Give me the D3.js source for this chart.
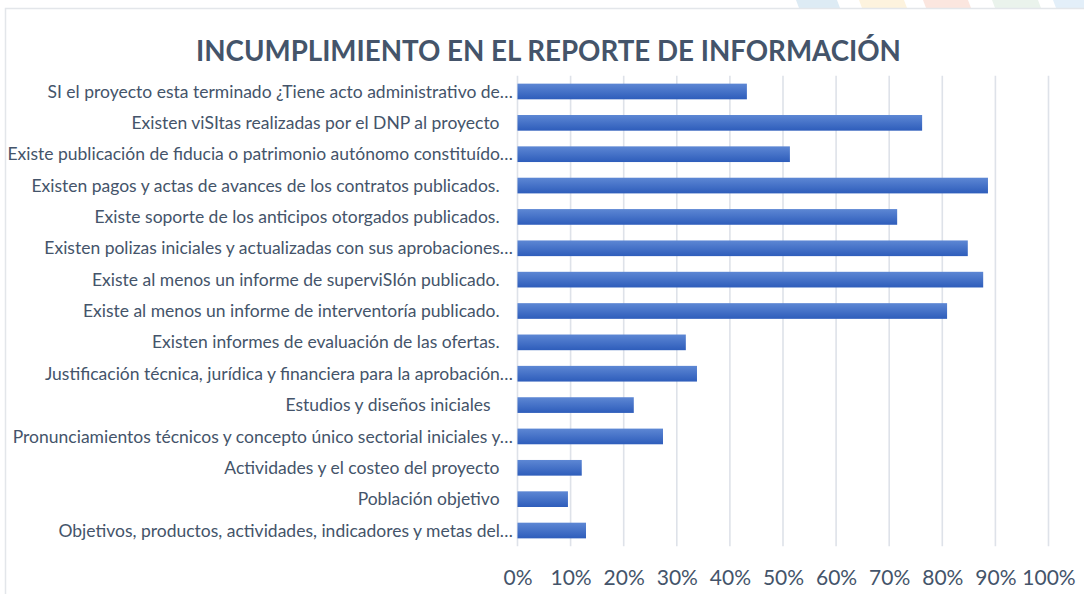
<!DOCTYPE html>
<html><head><meta charset="utf-8">
<script src="https://cdn.jsdelivr.net/npm/d3@7"></script>
<style>
html,body{margin:0;padding:0;background:#fff;}
svg{display:block;}
text{font-family:Lato,"Open Sans",sans-serif;}
</style></head>
<body><svg id="c" width="1084" height="594"></svg>
<script>
const title = "INCUMPLIMIENTO EN EL REPORTE DE INFORMACIÓN";
const categories = [
  "SI el proyecto esta terminado ¿Tiene acto administrativo de…",
  "Existen viSItas realizadas por el DNP al proyecto   ",
  "Existe publicación de fiducia o patrimonio autónomo constituído…",
  "Existen pagos y actas de avances de los contratos publicados.   ",
  "Existe soporte de los anticipos otorgados publicados.   ",
  "Existen polizas iniciales y actualizadas con sus aprobaciones…",
  "Existe al menos un informe de superviSIón publicado.   ",
  "Existe al menos un informe de interventoría publicado.   ",
  "Existen informes de evaluación de las ofertas.   ",
  "Justificación técnica, jurídica y financiera para la aprobación…",
  "Estudios y diseños iniciales     ",
  "Pronunciamientos técnicos y concepto único sectorial iniciales y…",
  "Actividades y el costeo del proyecto   ",
  "Población objetivo   ",
  "Objetivos, productos, actividades, indicadores y metas del…"
];
const values = [0.432, 0.762, 0.513, 0.886, 0.715, 0.848, 0.877, 0.809, 0.317, 0.338, 0.219, 0.274, 0.121, 0.095, 0.129];
const tickValues = [0,0.1,0.2,0.3,0.4,0.5,0.6,0.7,0.8,0.9,1.0];

const svg = d3.select("#c");
const textColor = "#44546A";

// slide decoration above the chart frame
const deco = [[796,837,"#DDEBF4"],[859,904,"#FDF3DE"],[923,968,"#FBE6DF"],[992,1038,"#EAF3EC"],[1053,1095,"#E3EFF9"]];
svg.selectAll("polygon.deco").data(deco).join("polygon").attr("class","deco")
  .attr("points", d => `${d[0]},0 ${d[1]},0 ${d[1]+3},8 ${d[0]+3},8`).attr("fill", d => d[2]);

// chart frame
svg.append("rect").attr("x",5.5).attr("y",8.5).attr("width",1100).attr("height",600)
  .attr("fill","#fff").attr("stroke","#E3E6EA").attr("stroke-width",1.5);

const defs = svg.append("defs");
const grad = defs.append("linearGradient").attr("id","barGrad").attr("x1",0).attr("y1",0).attr("x2",0).attr("y2",1);
grad.append("stop").attr("offset","0%").attr("stop-color","#5D87D4");
grad.append("stop").attr("offset","100%").attr("stop-color","#2E5DBB");

const x = d3.scaleLinear().domain([0,1]).range([517.5,1048.5]);
const y = d3.scaleBand().domain(categories).range([75.8,546.2]).paddingInner(0.5).paddingOuter(0.25);

// gridlines
svg.append("g").selectAll("line").data(tickValues).join("line")
  .attr("x1", d => x(d)).attr("x2", d => x(d))
  .attr("y1", y.range()[0]).attr("y2", y.range()[1])
  .attr("stroke","#DEE2E9").attr("stroke-width",1.6);

// bars
svg.append("g").selectAll("rect").data(values).join("rect")
  .attr("x", x(0)).attr("y", (d,i) => y(categories[i]))
  .attr("width", d => x(d) - x(0)).attr("height", y.bandwidth())
  .attr("fill","url(#barGrad)");

// category labels
svg.append("g").selectAll("text").data(categories).join("text")
  .attr("x", 513).attr("y", d => y(d) + y.bandwidth()/2)
  .attr("dy","0.35em").attr("text-anchor","end")
  .attr("fill", textColor).attr("font-size", 17.5)
  .style("white-space","pre")
  .text(d => d);

// tick labels
const xAxis = d3.axisBottom(x).tickValues(tickValues).tickFormat(d3.format(".0%")).tickSize(0).tickPadding(0);
const gx = svg.append("g").attr("transform","translate(0,585)").call(xAxis);
gx.select(".domain").remove();
gx.selectAll("text").attr("fill", textColor).attr("font-size", 21).attr("font-family","Lato, sans-serif").attr("dy", 0);

// title
svg.append("text").attr("x", 548.5).attr("y", 61).attr("text-anchor","middle")
  .attr("fill", textColor).attr("font-size", 27.7).attr("font-weight","bold")
  .text(title);
</script></body></html>
